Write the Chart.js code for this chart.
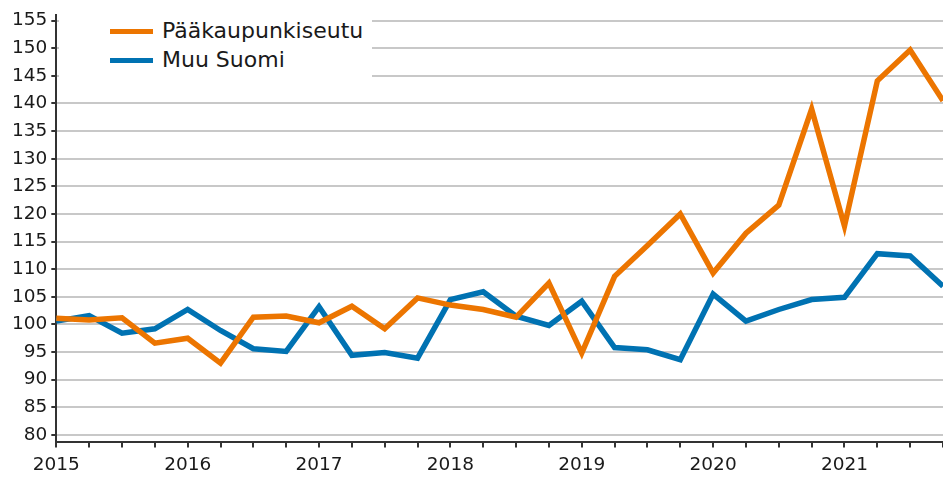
<!DOCTYPE html>
<html>
<head>
<meta charset="utf-8">
<script src="https://cdn.jsdelivr.net/npm/chart.js@4"></script>
<style>
  body { margin: 0; background: #fff; }
  #wrap { position: relative; width: 943px; height: 477px; }
  #legend {
    position: absolute; left: 59px; top: 10px; width: 313px; height: 78px;
    background: #fff; font-family: 'DejaVu Sans', sans-serif; font-size: 22px; color: #1a1a1a;
  }
  .item { position: absolute; left: 51px; height: 26px; line-height: 26px; }
  .item span.swatch { position: absolute; left: 0; top: 11px; width: 43px; height: 5px; }
  .item span.label { position: absolute; left: 52px; white-space: nowrap; }
</style>
</head>
<body>
<div id="wrap">
  <canvas id="chart"></canvas>
  <div id="legend"></div>
</div>
<script>
// Data (quarterly index, 2015Q1 - 2021Q4)
const years = ['2015', '2016', '2017', '2018', '2019', '2020', '2021'];
const yTicks = [80, 85, 90, 95, 100, 105, 110, 115, 120, 125, 130, 135, 140, 145, 150, 155];

const paakaupunkiseutu = [101.1, 100.8, 101.2, 96.6, 97.5, 93.0, 101.3, 101.5, 100.3, 103.3, 99.2, 104.8,
    103.5, 102.7, 101.3, 107.5, 94.8, 108.7, 114.3, 120.0, 109.3, 116.5, 121.6, 139.0, 117.8, 144.1, 149.7, 140.5];
const muuSuomi = [100.6, 101.6, 98.4, 99.2, 102.7, 98.9, 95.6, 95.1, 103.2, 94.4, 94.9, 93.9,
    104.5, 105.9, 101.5, 99.8, 104.2, 95.8, 95.4, 93.6, 105.5, 100.6, 102.7, 104.5, 104.9, 112.8, 112.4, 106.9];

const seriesNames = ['Pääkaupunkiseutu', 'Muu Suomi'];
const colors = ['#ec7500', '#0072b2'];

// one label per quarter, year shown on Q1 only
const labels = [];
years.forEach(y => { labels.push(y, '', '', ''); });

const font = 'DejaVu Sans';

new Chart(document.getElementById('chart'), {
    type: 'line',
    data: {
        labels: labels,
        datasets: [paakaupunkiseutu, muuSuomi].map((d, i) => ({
            label: seriesNames[i],
            data: d,
            borderColor: colors[i],
            backgroundColor: colors[i],
            borderWidth: 5.5,
            pointRadius: 0,
            tension: 0,
            fill: false,
        }))
    },
    options: {
        responsive: true,
        maintainAspectRatio: false,
        animation: false,
        layout: { padding: { left: 8, top: 15, right: 0, bottom: -5 } },
        plugins: { legend: { display: false }, tooltip: { enabled: false } },
        scales: {
            x: {
                offset: false,
                afterFit: s => { s.paddingRight = 0; },
                grid: { drawOnChartArea: false, tickLength: 6, tickColor: '#333', lineWidth: 2 },
                border: { color: '#333', width: 2 },
                ticks: { autoSkip: false, maxRotation: 0, padding: 8, color: '#1a1a1a', font: { family: font, size: 18.5, lineHeight: 1 } }
            },
            y: {
                min: 78.8,
                max: 156,
                afterBuildTicks: axis => { axis.ticks = yTicks.map(v => ({ value: v })); },
                grid: { color: '#c8c8c8', lineWidth: 2, tickColor: '#333', tickLength: 5 },
                border: { color: '#333', width: 2 },
                ticks: { padding: 4, color: '#1a1a1a', font: { family: font, size: 18.5 } }
            }
        }
    }
});

// legend drawn as html on top of the chart
const legend = document.getElementById('legend');
seriesNames.forEach((name, i) => {
    const item = document.createElement('div');
    item.className = 'item';
    item.style.top = (8 + i * 29) + 'px';
    item.innerHTML = '<span class="swatch" style="background:' + colors[i] + '"></span><span class="label">' + name + '</span>';
    legend.appendChild(item);
});
</script>
</body>
</html>
